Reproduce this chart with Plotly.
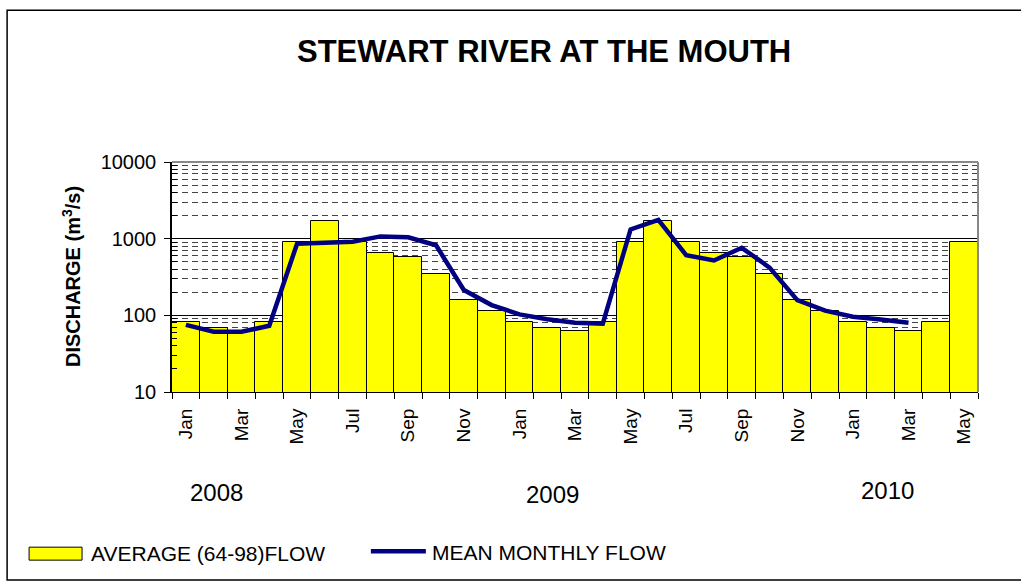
import plotly.graph_objects as go

# monthly labels, Jan 2008 .. May 2010
months = ["Jan", "Feb", "Mar", "Apr", "May", "Jun", "Jul", "Aug", "Sep", "Oct", "Nov", "Dec",
          "Jan", "Feb", "Mar", "Apr", "May", "Jun", "Jul", "Aug", "Sep", "Oct", "Nov", "Dec",
          "Jan", "Feb", "Mar", "Apr", "May"]

# long-term average (64-98) flow, repeated each year
avg_year = [83, 69, 62, 81, 894, 1676, 894, 655, 570, 349, 160, 113]
avg_flow = avg_year + avg_year + avg_year[:5]

# mean monthly flow, Jan 2008 .. Mar 2010
mean_flow = [75, 61, 61, 73, 860, 877, 910, 1070, 1040, 820, 214, 136,
             103, 89, 80, 78, 1320, 1760, 610, 520, 760, 420, 158, 115,
             96, 88, 80]

years = ["2008", "2009", "2010"]

idx = list(range(len(months)))

# plot area in pixels
L, T, W, H = 172, 162, 806.5, 230.5
def px(x):
    return (x - L) / W
def py(y):
    return (T + H - y) / H

FONT = "Liberation Sans, Arial, sans-serif"

fig = go.Figure()

fig.add_trace(go.Bar(
    x=idx, y=avg_flow, name="AVERAGE (64-98)FLOW",
    marker=dict(color="#FFFF00", line=dict(color="black", width=1)),
    showlegend=False,
))

fig.add_trace(go.Scatter(
    x=idx[:len(mean_flow)], y=mean_flow, mode="lines", name="MEAN MONTHLY FLOW",
    line=dict(color="#000080", width=4.5),
    showlegend=False,
))

minor_y = [m * 10 ** e for e in (1, 2, 3) for m in range(2, 10)]

fig.update_layout(
    width=1021, height=582,
    margin=dict(l=L, r=1021 - L - W, t=T, b=582 - T - H, pad=0),
    paper_bgcolor="white", plot_bgcolor="white",
    bargap=0,
    font=dict(family=FONT, color="black"),
    xaxis=dict(
        range=[-0.5, len(months) - 0.5],
        tickvals=idx[::2], ticktext=months[::2],
        tickangle=-90, tickfont=dict(size=19),
        ticks="", showgrid=False, zeroline=False,
        showline=True, linecolor="black", linewidth=1,
        ticklabelstandoff=8,
        minor=dict(tickvals=[i - 0.5 for i in range(len(months) + 1)],
                   ticks="outside", ticklen=6, tickcolor="black", showgrid=False),
    ),
    yaxis=dict(
        type="log", range=[1, 4],
        tickvals=[10, 100, 1000, 10000], ticktext=["10", "100", "1000", "10000"],
        tickfont=dict(size=20),
        ticks="outside", ticklen=6, tickcolor="black",
        showgrid=True, gridcolor="black", gridwidth=1,
        showline=True, linecolor="black", linewidth=1.5,
        ticklabelstandoff=4,
        minor=dict(tickvals=minor_y, ticks="inside", ticklen=5, tickcolor="black",
                   showgrid=True, gridcolor="#444444", gridwidth=1, griddash="6px,4px"),
    ),
)

shapes = [
    # top and right edges of the plot area
    dict(type="line", xref="paper", yref="paper", x0=0, x1=1, y0=1, y1=1,
         line=dict(color="#888888", width=2)),
    dict(type="line", xref="paper", yref="paper", x0=1, x1=1, y0=0, y1=1,
         line=dict(color="#888888", width=2)),
    # outer chart border
    dict(type="rect", xref="paper", yref="paper",
         x0=px(7), x1=px(1040), y0=py(581), y1=py(10),
         line=dict(color="black", width=1.5)),
    # legend swatches
    dict(type="rect", xref="paper", yref="paper",
         x0=px(29), x1=px(82), y0=py(561), y1=py(548),
         fillcolor="#FFFF00", line=dict(color="black", width=1)),
    dict(type="line", xref="paper", yref="paper",
         x0=px(371), x1=px(426), y0=py(552), y1=py(552),
         line=dict(color="#000080", width=4.5)),
]

def label(text, x, y, size, xanchor="center", angle=0):
    return dict(text=text, x=x, y=y, xref="paper", yref="paper", showarrow=False,
                xanchor=xanchor, yanchor="middle", textangle=angle, font=dict(size=size))

annotations = [
    label("<b>STEWART RIVER AT THE MOUTH</b>", px(544), py(51), 31),
    label("<b>DISCHARGE (m<sup>3</sup>/s)</b>", px(71), 0.5, 20, angle=-90),
    label("AVERAGE (64-98)FLOW", px(89), py(554), 21, xanchor="left"),
    label("MEAN MONTHLY FLOW", px(430), py(553), 21, xanchor="left"),
]
for name, xc, yc in zip(years, [217, 553, 888], [493, 495, 491]):
    annotations.append(label(name, px(xc), py(yc), 24))

fig.update_layout(shapes=shapes, annotations=annotations)

# drop the browser's default body margin so the figure sits at 0,0
fig.write_html("out.html", config={"displayModeBar": False},
               post_script="document.body.style.margin='0';")
